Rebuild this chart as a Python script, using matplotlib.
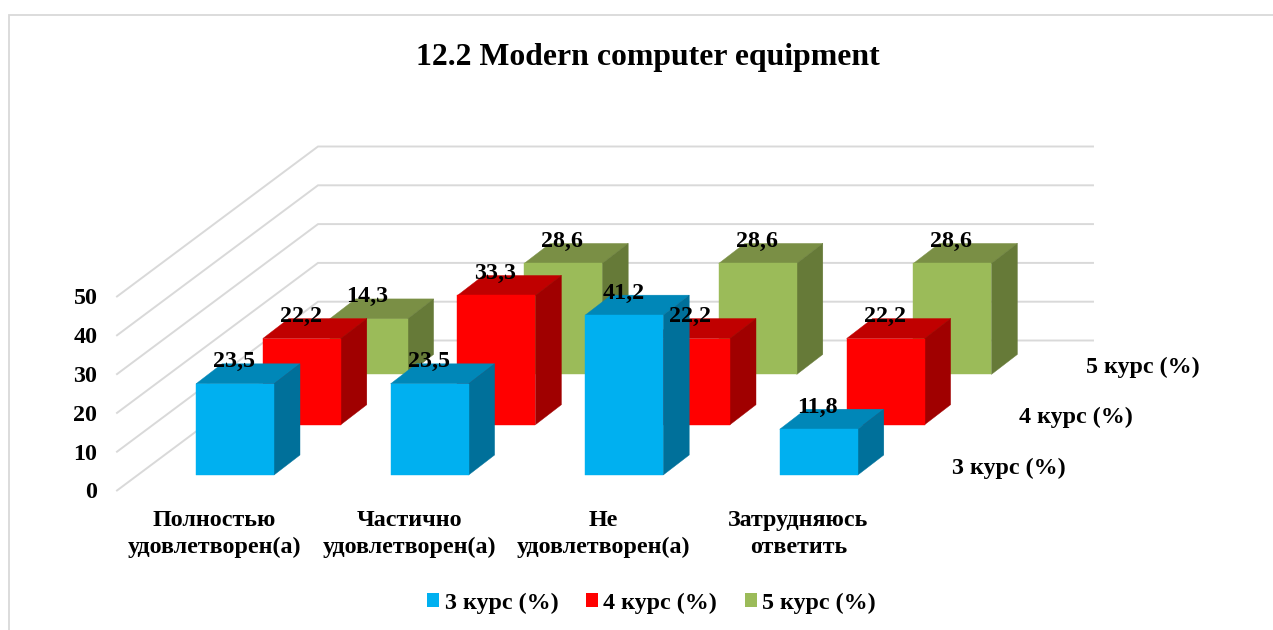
import matplotlib
matplotlib.use("Agg")
import matplotlib.pyplot as plt
from matplotlib.patches import Polygon, Patch

plt.rcParams['font.family'] = ['Liberation Serif', 'DejaVu Serif']
plt.rcParams['font.weight'] = 'bold'

title = "12.2 Modern computer equipment"
categories = ["Полностью\nудовлетворен(а)", "Частично\nудовлетворен(а)",
              "Не\nудовлетворен(а)", "Затрудняюсь\nответить"]
series_names = ["3 курс (%)", "4 курс (%)", "5 курс (%)"]
course3 = [23.5, 23.5, 41.2, 11.8]
course4 = [22.2, 33.3, 22.2, 22.2]
course5 = [14.3, 28.6, 28.6, 28.6]
y_ticks = [0, 10, 20, 30, 40, 50]

series_values = [course3, course4, course5]
front = ["#00B0F0", "#FF0000", "#9BBB59"]
top = ["#0087B8", "#C00000", "#7A8F45"]
side = ["#00709A", "#A00000", "#667A38"]
grid = "#D9D9D9"
FS = 17.3

# Oblique projection of the 3D chart onto figure pixels
PX_PER_UNIT = 3.88
CAT_STEP = 194.6
SER_DX, SER_DY = 66.8, 50.3
BAR_W = 78
DEPTH_X, DEPTH_Y = 26, 20


def project(cat, ser, value):
    x = 196 + CAT_STEP * cat + SER_DX * ser
    y = 475 - SER_DY * ser - PX_PER_UNIT * value
    return x, y


fig = plt.figure(figsize=(12.73, 6.30), dpi=100)
ax = fig.add_axes([0, 0, 1, 1])
ax.set_xlim(0, 1273)
ax.set_ylim(630, 0)
ax.axis("off")

# chart frame
ax.plot([9, 9, 1273], [630, 14.5, 14.5], color="#D9D9D9", lw=1.3,
        solid_joinstyle="miter", zorder=0)

# wall and side gridlines
for v in y_ticks:
    y_back = 340.5 - PX_PER_UNIT * v
    y_front = 490.5 - PX_PER_UNIT * v
    ax.plot([117, 318, 1093], [y_front, y_back, y_back], color=grid, lw=1.4,
            solid_joinstyle="miter", zorder=1)
    ax.text(97.5, y_front + 2.5, str(v), ha="right", va="center", fontsize=FS,
            fontweight="bold", color="black", zorder=5)

# bars, back series first
z = 2
for s in (2, 1, 0):
    for c, v in enumerate(series_values[s]):
        x0, y_base = project(c, s, 0)
        _, y_top = project(c, s, v)
        x1 = x0 + BAR_W
        ax.add_patch(Polygon([(x0, y_top), (x1, y_top),
                              (x1 + DEPTH_X, y_top - DEPTH_Y),
                              (x0 + DEPTH_X, y_top - DEPTH_Y)],
                             closed=True, fc=top[s], ec=top[s], lw=0.3, zorder=z))
        ax.add_patch(Polygon([(x1, y_base), (x1, y_top),
                              (x1 + DEPTH_X, y_top - DEPTH_Y),
                              (x1 + DEPTH_X, y_base - DEPTH_Y)],
                             closed=True, fc=side[s], ec=side[s], lw=0.3, zorder=z))
        ax.add_patch(Polygon([(x0, y_base), (x1, y_base), (x1, y_top), (x0, y_top)],
                             closed=True, fc=front[s], ec=front[s], lw=0.3, zorder=z))
    z += 1

# value labels
for s in (2, 1, 0):
    for c, v in enumerate(series_values[s]):
        x0, y_top = project(c, s, v)
        ax.text(x0 + BAR_W / 2 - 1, y_top - 22, f"{v:.1f}".replace(".", ","),
                ha="center", va="center", fontsize=FS, fontweight="bold",
                color="black", zorder=6)

# category labels
for c, name in enumerate(categories):
    ax.text(214.5 + CAT_STEP * c, 534, name, ha="center", va="center",
            fontsize=FS, fontweight="bold", linespacing=1.4, color="black", zorder=6)

# depth-axis labels
for s, name in enumerate(series_names):
    ax.text(952 + SER_DX * s, 468 - SER_DY * s, name, ha="left", va="center",
            fontsize=FS, fontweight="bold", color="black", zorder=6)

ax.text(648, 57, title, ha="center", va="center", fontsize=22.9,
        fontweight="bold", color="black")

handles = [Patch(fc=front[i], ec="none", label=series_names[i]) for i in range(3)]
ax.legend(handles=handles, ncol=3, frameon=False, fontsize=FS,
          loc="center", bbox_to_anchor=(651.5, 603), bbox_transform=ax.transData,
          handlelength=0.5, handleheight=0.5, handletextpad=0.22,
          columnspacing=1.15, borderpad=0, borderaxespad=0,
          prop={"family": "Liberation Serif", "weight": "bold", "size": FS})

fig.savefig("out.png", dpi=100)
